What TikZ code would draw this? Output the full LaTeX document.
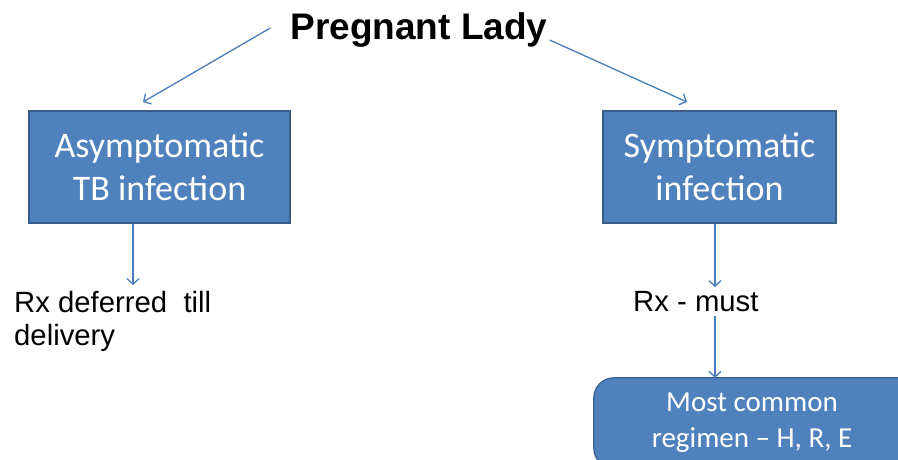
\documentclass[tikz,border=0pt]{standalone}
\usepackage{fontspec}
\setmainfont{Liberation Sans}
\newfontfamily\boxfont{Carlito}
\usetikzlibrary{arrows.meta,backgrounds}
\definecolor{boxblue}{RGB}{79,129,189}
\definecolor{boxline}{RGB}{56,93,138}
\definecolor{arrowblue}{RGB}{74,126,187}
\begin{document}
\begin{tikzpicture}[x=1pt,y=-1pt,
		bluebox/.style={draw=boxline, line width=1.2pt, fill=boxblue, text=white, align=center, inner sep=0pt, font=\boxfont\fontsize{36}{43}\selectfont},
		label/.style={inner sep=0pt, align=left, font=\fontsize{29.3}{33}\selectfont},
		arr/.style={draw=arrowblue, line width=1.3pt, -{Straight Barb[length=5.5pt,width=12pt]}}]
			\path[use as bounding box, clip] (0,0) rectangle (898,460);
			\node	(title) at (419,30) [inner sep=0pt, font=\bfseries\fontsize{37}{44}\selectfont] {Pregnant Lady};
			\node	(asym) at (159.5,167) [bluebox, minimum width=261pt, minimum height=112pt] {Asymptomatic\\TB infection};
			\node	(sym) at (719.5,167) [bluebox, minimum width=233pt, minimum height=112pt] {Symptomatic\\infection};
			\node	(rxd) at (14,291) [label, anchor=north west] {Rx deferred\ \ till\\delivery};
			\node	(rxm) at (633,291) [label, anchor=north west] {Rx - must};
			\node	(reg) at (752,423) [text=white, align=center, inner sep=0pt, minimum width=316pt, minimum height=90pt, font=\boxfont\fontsize{29}{36}\selectfont] {Most common\\regimen \textendash\ H, R, E};
			\begin{scope}[on background layer]
				\draw[draw=boxline, line width=1.2pt, fill=boxblue, rounded corners=20pt] (reg.north west) rectangle ([xshift=60pt]reg.south east);
			\end{scope}
			\coordinate	(ta) at (143,102);
			\coordinate	(ts) at (687,102);
			\coordinate	(da) at (133,285);
			\coordinate	(ds) at (715,287);
			\coordinate	(ms) at (715,316);
			\draw[arr] ([xshift=-20pt,yshift=2pt]title.west) -- (ta);
			\draw[arr] ([xshift=2pt,yshift=-10pt]title.east) -- (ts);
			\draw[arr] (asym.south -| da) -- (da);
			\draw[arr] (sym.south -| ds) -- (ds);
			\draw[arr] (ms) -- (ms |- reg.north);
		\end{tikzpicture}
\end{document}
